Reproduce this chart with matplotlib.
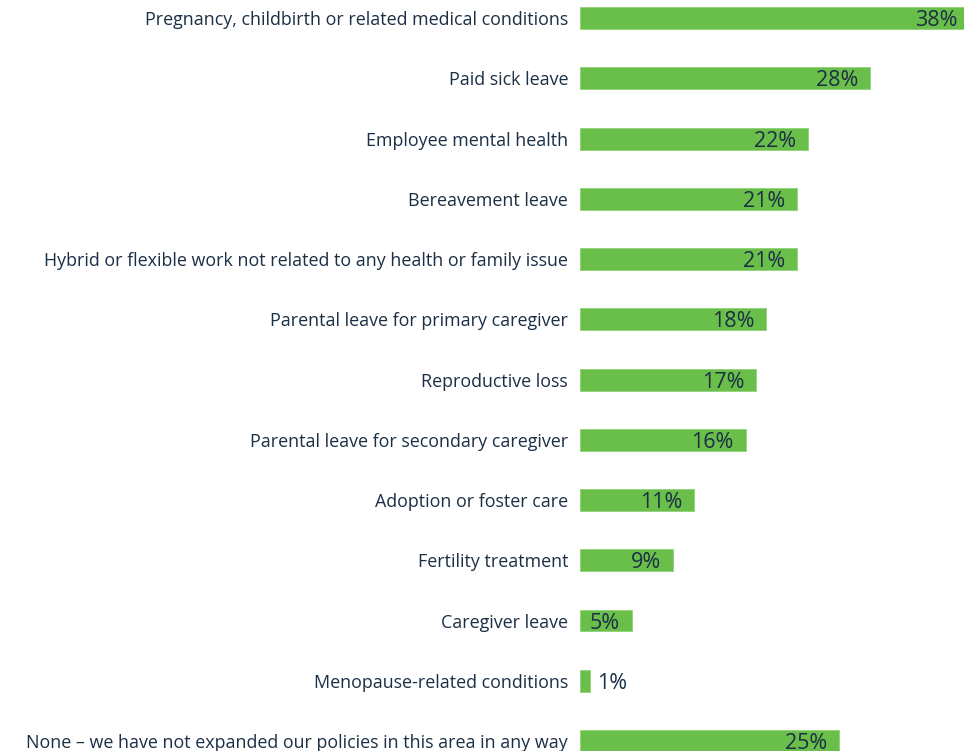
import matplotlib.pyplot as plt

categories = [
    "Pregnancy, childbirth or related medical conditions",
    "Paid sick leave",
    "Employee mental health",
    "Bereavement leave",
    "Hybrid or flexible work not related to any health or family issue",
    "Parental leave for primary caregiver",
    "Reproductive loss",
    "Parental leave for secondary caregiver",
    "Adoption or foster care",
    "Fertility treatment",
    "Caregiver leave",
    "Menopause-related conditions",
    "None \u2013 we have not expanded our policies in this area in any way",
]
values = [38, 28, 22, 21, 21, 18, 17, 16, 11, 9, 5, 1, 25]
value_labels = [f"{v}%" for v in values]

GREEN = "#6abf4b"
TEXT = "#1b2f45"
plt.rcParams['font.family'] = ['Open Sans', 'DejaVu Sans']

fig = plt.figure(figsize=(9.64, 7.51), dpi=100)
ax = fig.add_axes([0.6017, 0, 0.3983, 1])

y = list(range(len(categories)))
ax.barh(y, values, height=0.365, color=GREEN, edgecolor="#8fd178", linewidth=0.6)

xmax = 384 / 10.35
ax.set_xlim(0, xmax)
ax.set_ylim(12.166, -0.299)

for yi, v, lab in zip(y, values, value_labels):
    if v < 3:
        ax.text(v + 0.6, yi, lab, ha="left", va="center_baseline", fontsize=15.5, color=TEXT)
    else:
        ax.text(min(v - 1.15, xmax - 0.6), yi, lab, ha="right", va="center_baseline",
                fontsize=15.5, color=TEXT)

for yi, c in zip(y, categories):
    ax.text(-1.15, yi, c, ha="right", va="center_baseline", fontsize=12.9, color=TEXT,
            clip_on=False)

ax.axis("off")
fig.savefig("out.png", dpi=100)
